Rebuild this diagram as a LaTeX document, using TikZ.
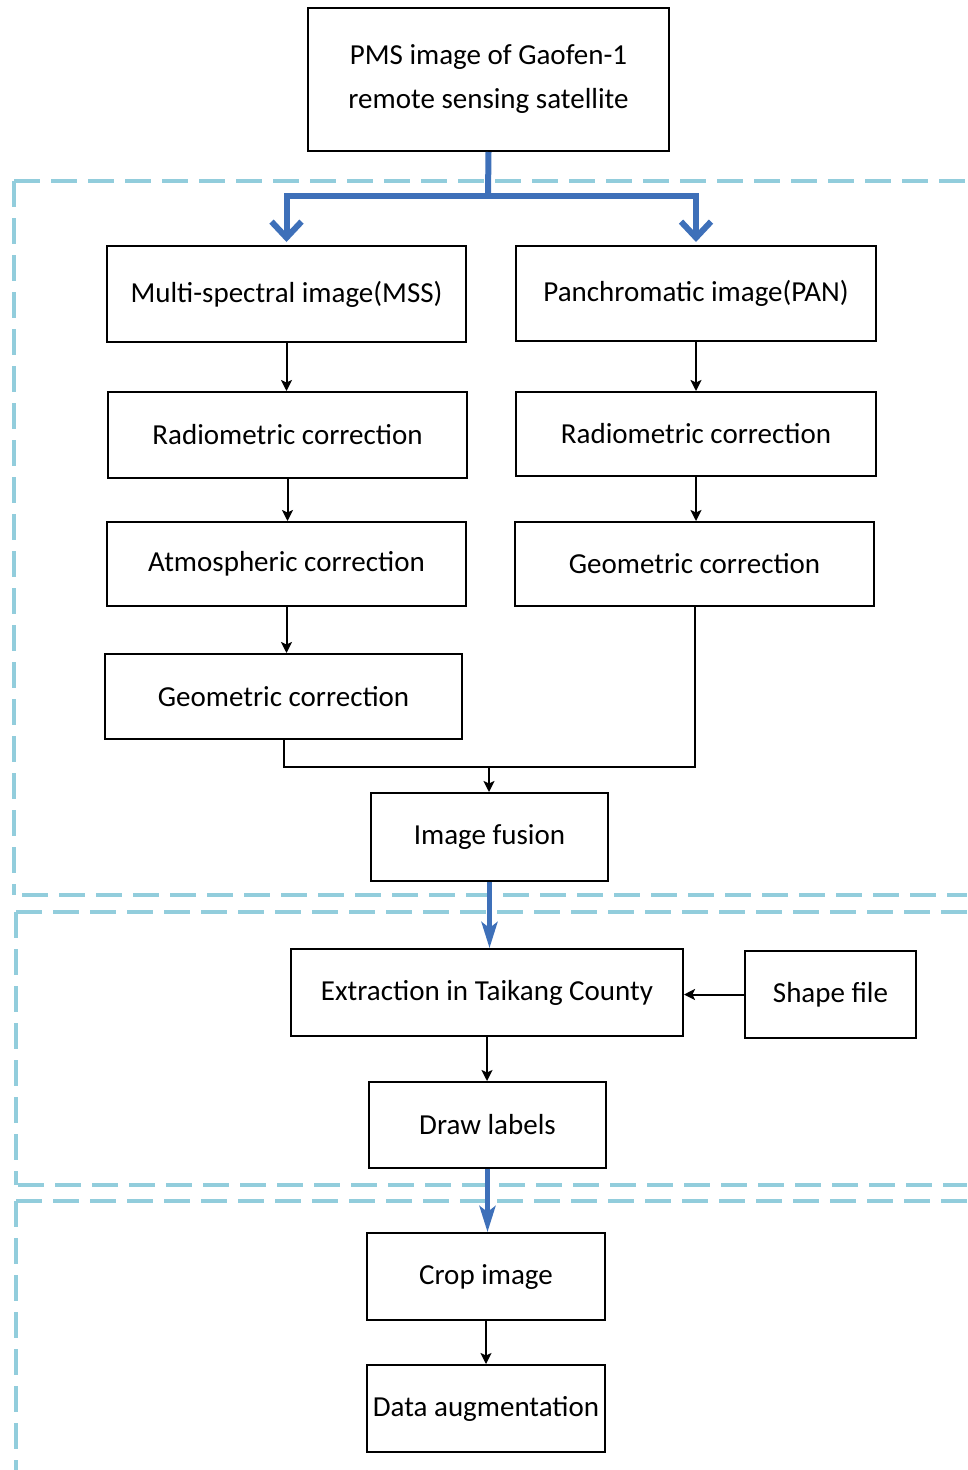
\documentclass[tikz,border=0pt]{standalone}
\usepackage{fontspec}
\setmainfont{Carlito}
\usetikzlibrary{arrows.meta}
\definecolor{fblue}{RGB}{62,112,185}
\definecolor{dashc}{RGB}{146,205,220}
\begin{document}
\begin{tikzpicture}[x=1pt,y=-1pt,
  box/.style={draw=black,line width=2pt,inner sep=0pt,align=center,
    font=\fontsize{29}{44}\selectfont},
  conn/.style={draw=black,line width=2pt},
  arr/.style={conn,-{Stealth[length=11pt,width=11pt,inset=2.5pt]}},
  bline/.style={draw=fblue,line width=6pt},
  barr/.style={draw=fblue,line width=6pt,-{Straight Barb[length=16pt,width=30pt,line width=6pt]}},
  barr2/.style={draw=fblue,line width=4.5pt,-{Stealth[length=26pt,width=16pt,inset=6pt]}},
  dsh/.style={draw=dashc,line width=3.5pt,dash pattern=on 26pt off 11pt}]
\useasboundingbox (0,0) rectangle (967,1470);
% dashed regions
\draw[dsh] (14,181) -- (14,895);
\draw[dsh] (14,181) -- (967,181);
\draw[dsh] (22,895) -- (967,895);
\draw[dsh] (16,912) -- (16,1185);
\draw[dsh] (16,912) -- (967,912);
\draw[dsh] (18,1185) -- (967,1185);
\draw[dsh] (16,1201) -- (16,1470);
\draw[dsh] (16,1201) -- (967,1201);
% boxes
\node[box,minimum width=361pt,minimum height=143pt] (pms) at (488.5,79.5) {PMS image of Gaofen-1\\remote sensing satellite};
\node[box,minimum width=359pt,minimum height=96pt] (mss) at (286.5,294) {Multi-spectral image(MSS)};
\node[box,minimum width=360pt,minimum height=95pt] (pan) at (696,293.5) {Panchromatic image(PAN)};
\node[box,minimum width=359pt,minimum height=86pt] (radl) at (287.5,435) {Radiometric correction};
\node[box,minimum width=360pt,minimum height=84pt] (radr) at (696,434) {Radiometric correction};
\node[box,minimum width=359pt,minimum height=84pt] (atm) at (286.5,564) {Atmospheric correction};
\node[box,minimum width=359pt,minimum height=84pt] (geor) at (694.5,564) {Geometric correction};
\node[box,minimum width=357pt,minimum height=85pt] (geol) at (283.5,696.5) {Geometric correction};
\node[box,minimum width=237pt,minimum height=88pt] (fus) at (489.5,837) {Image fusion};
\node[box,minimum width=392pt,minimum height=87pt] (ext) at (487,992.5) {Extraction in Taikang County};
\node[box,minimum width=171pt,minimum height=87pt] (shp) at (830.5,994.5) {Shape file};
\node[box,minimum width=237pt,minimum height=86pt] (drw) at (487.5,1125) {Draw labels};
\node[box,minimum width=238pt,minimum height=87pt] (crp) at (486,1276.5) {Crop image};
\node[box,minimum width=238pt,minimum height=87pt] (dat) at (486,1408.5) {Data augmentation};
% blue fork
\coordinate (fork) at (488,196);
\draw[bline] (pms.south) -- (fork);
\draw[barr,shorten >=3pt] (fork) -| (mss.north);
\draw[barr,shorten >=3pt] (fork) -| (pan.north);
% black arrows
\draw[arr] (mss.south) -- (mss.south |- radl.north);
\draw[arr] (pan.south) -- (pan.south |- radr.north);
\draw[arr] (radl.south) -- (radl.south |- atm.north);
\draw[arr] (radr.south) -- (radr.south |- geor.north);
\draw[arr] (atm.south) -- (atm.south |- geol.north);
\coordinate (m) at (489,767);
\draw[conn] (geol.south) |- (m);
\draw[conn] (geor.south) |- (m);
\draw[arr] (m) -- (m |- fus.north);
\draw[barr2] (fus.south) -- (fus.south |- ext.north);
\draw[arr] (shp.west) -- (ext.east |- shp.west);
\draw[arr] (ext.south) -- (ext.south |- drw.north);
\draw[barr2] (drw.south) -- (drw.south |- crp.north);
\draw[arr] (crp.south) -- (crp.south |- dat.north);
\end{tikzpicture}
\end{document}
